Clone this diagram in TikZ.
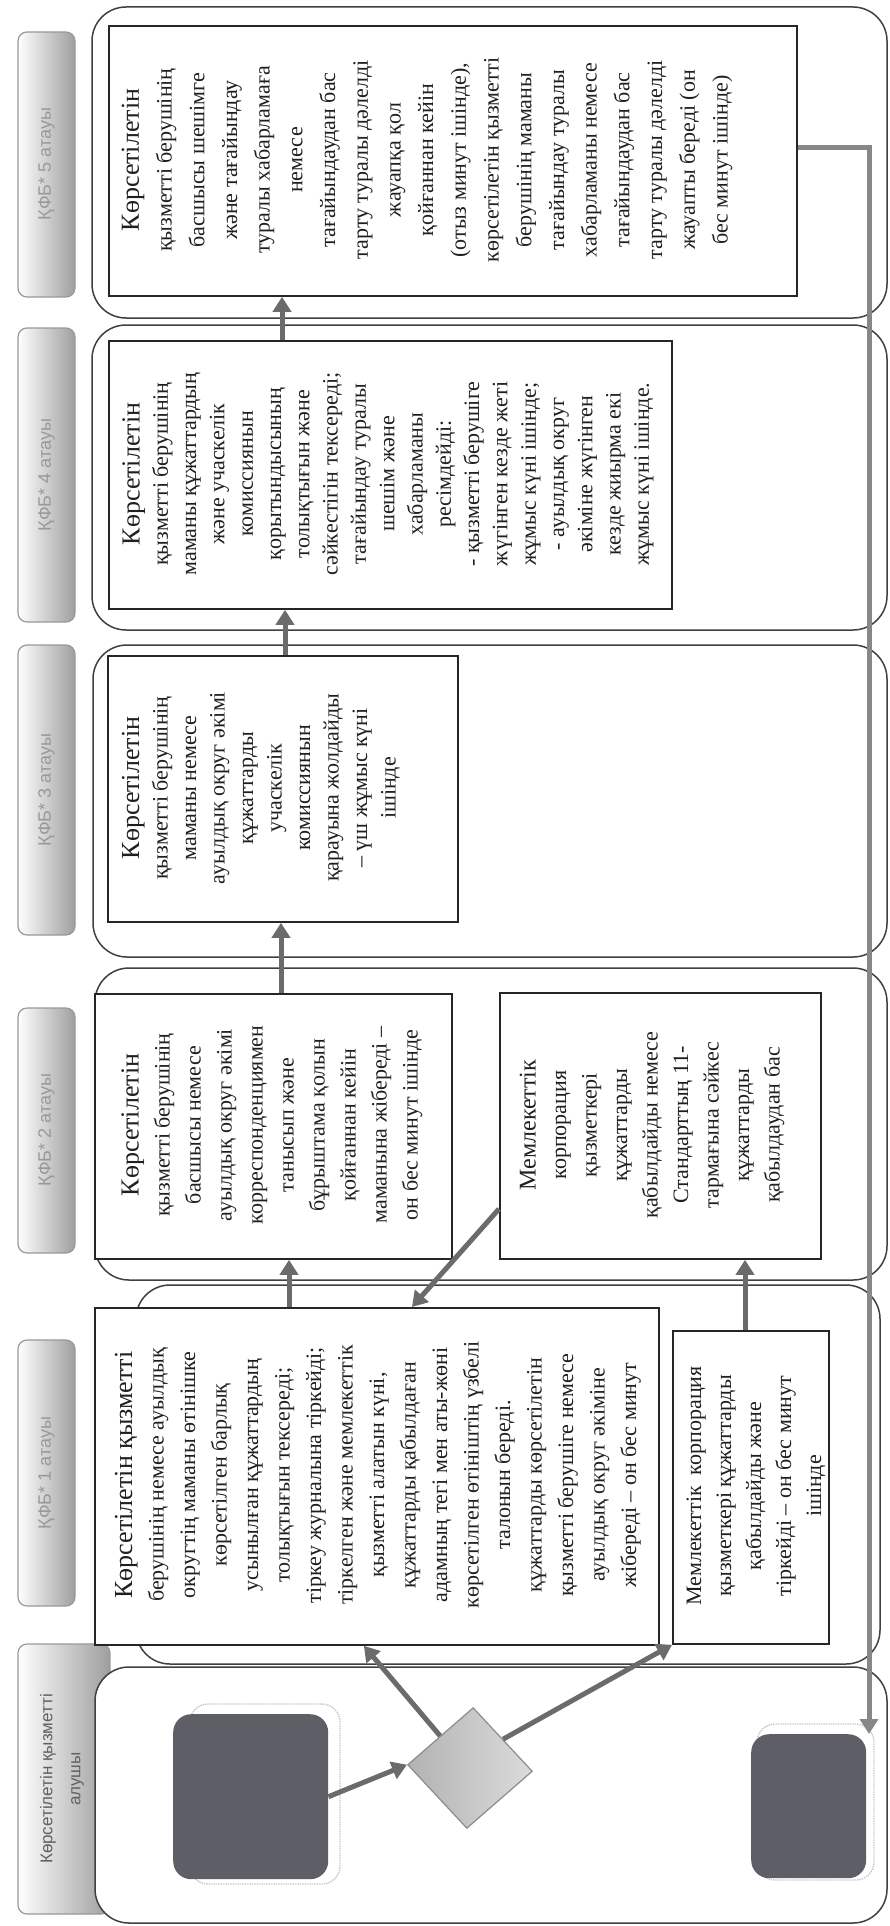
\documentclass[tikz,border=0pt]{standalone}
\usepackage{fontspec}
\setmainfont{Liberation Serif}
\newfontfamily\lanefont{Liberation Sans}
\usetikzlibrary{arrows.meta,shapes.geometric,calc}
\definecolor{darkfill}{HTML}{5E5F66}
\begin{document}
\begin{tikzpicture}[x=1pt,y=-1pt,
  lane/.style={draw=black!75, line width=1.5pt, rounded corners=34pt, fill=white},
  tab/.style={draw=black!40, line width=1.2pt, rounded corners=9pt, left color=white, right color=black!38},
  stepbox/.style={draw=black!85, line width=1.8pt, fill=white, inner sep=0pt, anchor=north west},
  darkbox/.style={fill=darkfill, rounded corners=18pt, inner sep=0pt, anchor=north west},
  shadowline/.style={draw=black!22, line width=1.4pt, densely dotted, rounded corners=18pt},
  boxtext/.style={rotate=90, align=center, text=black!88, inner sep=0pt},
  tablabel/.style={rotate=90, text=black!40, font=\lanefont\fontsize{18}{22}\selectfont},
  flow/.style={draw=black!58, line width=5pt, -{Triangle[length=15pt,width=18pt]}},
  exitflow/.style={draw=black!47, line width=5pt, -{Triangle[length=15pt,width=18pt]}}
]
\useasboundingbox (0,0) rectangle (889,1926);
\fill[white] (0,0) rectangle (889,1926);

% lane tabs
\shade[tab] (18,32) rectangle (75,297);
\shade[tab] (18,328) rectangle (75,622);
\shade[tab] (18,645) rectangle (75,935);
\shade[tab] (18,1008) rectangle (75,1253);
\shade[tab] (18,1340) rectangle (75,1606);
\shade[tab] (18,1644) rectangle (110,1914);
\node[tablabel] (lab5) at (46.5,164) {ҚФБ* 5 атауы};
\node[tablabel] (lab4) at (46.5,475) {ҚФБ* 4 атауы};
\node[tablabel] (lab3) at (46.5,790) {ҚФБ* 3 атауы};
\node[tablabel] (lab2) at (46.5,1130) {ҚФБ* 2 атауы};
\node[tablabel] (lab1) at (46.5,1473) {ҚФБ* 1 атауы};
\node[rotate=90, align=center, text=black!62, font=\lanefont\fontsize{17}{28}\selectfont] (lab0) at (62,1779) {Көрсетілетін қызметті\\алушы};

% lanes
\draw[lane] (92,7) rectangle (887,318);
\draw[lane] (92,325) rectangle (887,630);
\draw[lane] (93,645) rectangle (887,957);
\draw[lane] (95,968) rectangle (887,1280);
\draw[lane] (136,1285) rectangle (880,1664);
\draw[lane] (95,1667) rectangle (887,1923);

% boxes
\node[stepbox, minimum width=688pt, minimum height=270pt] (b5) at (108,25) {};
\node[stepbox, minimum width=563pt, minimum height=268pt] (b4) at (108,340) {};
\node[stepbox, minimum width=350pt, minimum height=266pt] (b3) at (107,655) {};
\node[stepbox, minimum width=357pt, minimum height=265pt] (b2a) at (94,993) {};
\node[stepbox, minimum width=321pt, minimum height=266pt] (b2b) at (499,992) {};
\node[stepbox, minimum width=564pt, minimum height=337pt] (b1a) at (94,1307) {};
\node[stepbox, minimum width=156pt, minimum height=313pt] (b1b) at (672,1330) {};

% texts
\node[boxtext, font=\fontsize{22}{32.7}\selectfont] (t5) at (427,160) {{\fontsize{26}{31}\selectfont Көрсетілетін}\\қызметті берушінің\\басшысы шешімге\\және тағайындау\\туралы хабарламаға\\немесе\\тағайындаудан бас\\тарту туралы дәлелді\\жауапқа қол\\қойғаннан кейін\\(отыз минут ішінде),\\көрсетілетін қызметті\\берушінің маманы\\тағайындау туралы\\хабарламаны немесе\\тағайындаудан бас\\тарту туралы дәлелді\\жауапты береді (он\\бес минут ішінде)};
\node[boxtext, font=\fontsize{22}{28.3}\selectfont] (t4) at (388,474) {{\fontsize{26}{31}\selectfont Көрсетілетін}\\қызметті берушінің\\маманы құжаттардың\\және учаскелік\\комиссиянын\\қорытындысының\\толықтығын және\\сәйкестігін тексереді;\\тағайындау туралы\\шешім және\\хабарламаны\\ресімдейді:\\- қызметті берушіге\\жүгінген кезде жеті\\жұмыс күні ішінде;\\- ауылдық округ\\әкіміне жүгінген\\кезде жиырма екі\\жұмыс күні ішінде.};
\node[boxtext, font=\fontsize{22}{28.5}\selectfont] (t3) at (261,788) {{\fontsize{26}{31}\selectfont Көрсетілетін}\\қызметті берушінің\\маманы немесе\\ауылдық округ әкімі\\құжаттарды\\учаскелік\\комиссиянын\\қарауына жолдайды\\– үш жұмыс күні\\ішінде};
\node[boxtext, font=\fontsize{22}{31}\selectfont] (t2a) at (272,1125) {{\fontsize{26}{31}\selectfont Көрсетілетін}\\қызметті берушінің\\басшысы немесе\\ауылдық округ әкімі\\корреспонденциямен\\танысып және\\бұрыштама қолын\\қойғаннан кейін\\маманына жібереді –\\он бес минут ішінде};
\node[boxtext, font=\fontsize{22}{30.5}\selectfont] (t2b) at (652,1125) {{\fontsize{24}{31}\selectfont Мемлекеттік}\\корпорация\\қызметкері\\құжаттарды\\қабылдайды немесе\\Стандарттың 11-\\тармағына сәйкес\\құжаттарды\\қабылдаудан бас};
\node[boxtext, font=\fontsize{22}{31.5}\selectfont] (t1a) at (378,1475) {{\fontsize{26}{31}\selectfont Көрсетілетін қызметті}\\берушінің немесе ауылдық\\округтің маманы өтінішке\\көрсетілген барлық\\усынылған құжаттардың\\толықтығын тексереді;\\тіркеу журналына тіркейді;\\тіркелген және мемлекеттік\\қызметті алатын күні,\\құжаттарды қабылдаған\\адамның тегі мен аты-жөні\\көрсетілген өтініштің үзбелі\\талонын береді.\\құжаттарды көрсетілетін\\қызметті берушіге немесе\\ауылдық округ әкіміне\\жібереді – он бес минут};
\node[boxtext, font=\fontsize{22}{30}\selectfont] (t1b) at (756,1486) {Мемлекеттік\ \ корпорация\\қызметкері құжаттарды\\қабылдайды және\\тіркейді – он бес минут\\ішінде};

% start, decision, end
\draw[shadowline] (190,1704) rectangle (340,1884);
\draw[shadowline] (757,1724) rectangle (874,1880);
\node[darkbox, minimum width=155pt, minimum height=165pt] (sb) at (173,1714) {};
\node[darkbox, minimum width=115pt, minimum height=144pt] (eb) at (751,1734) {};
\node[diamond, draw=black!45, line width=1.2pt, left color=black!30, right color=black!14, minimum width=125pt, minimum height=121pt, inner sep=0pt, rotate=-3] (dm) at (470,1768) {};

% connectors
\coordinate (colA) at (289,0);
\coordinate (colB) at (745,0);
\coordinate (colC) at (281,0);
\coordinate (colD) at (285,0);
\coordinate (colE) at (282,0);
\coordinate (ex) at (869,148);
\draw[flow] (sb.east) -- (dm.west);
\draw[flow] ($(dm.north)!0.5!(dm.west)$) -- ($(b1a.south west)!0.477!(b1a.south east)$);
\draw[flow] ($(dm.north)!0.5!(dm.east)$) -- (b1b.south west);
\draw[flow] (colA |- b1a.north) -- (colA |- b2a.south);
\draw[flow] (colB |- b1b.north) -- (colB |- b2b.south);
\draw[flow] ($(b2b.south west)!0.19!(b2b.north west)$) -- ($(b1a.north west)!0.562!(b1a.north east)$);
\draw[flow] (colC |- b2a.north) -- (colC |- b3.south);
\draw[flow] (colD |- b3.north) -- (colD |- b4.south);
\draw[flow] (colE |- b4.north) -- (colE |- b5.south);
\draw[exitflow] (b5.east |- ex) -- (ex) -- (ex |- eb.north);
\end{tikzpicture}
\end{document}
